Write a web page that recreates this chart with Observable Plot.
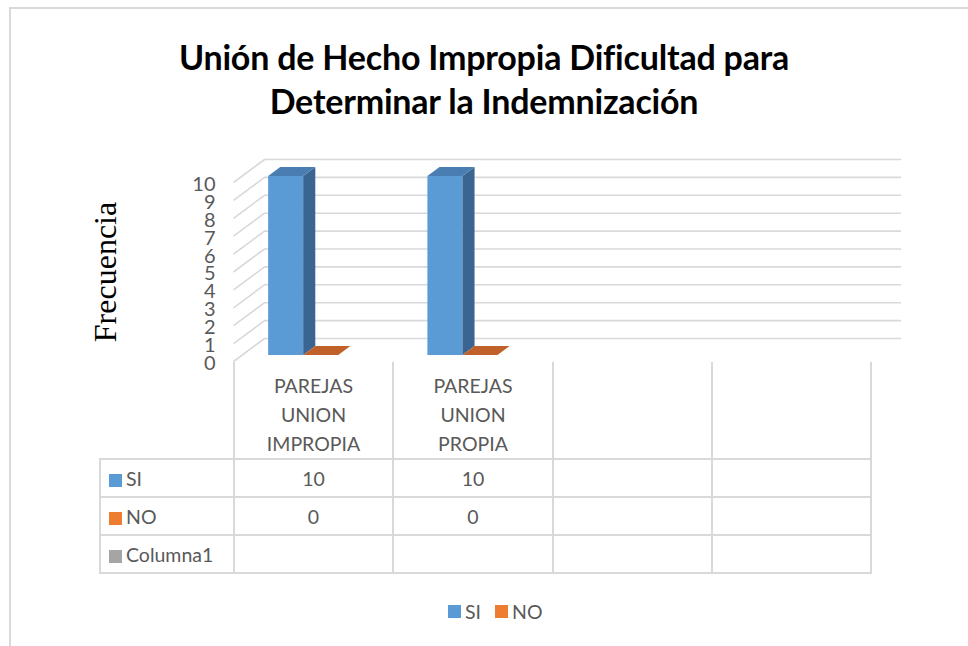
<!DOCTYPE html>
<html>
<head>
<meta charset="utf-8">
<script src="https://cdn.jsdelivr.net/npm/d3@7"></script>
<script src="https://cdn.jsdelivr.net/npm/@observablehq/plot@0.6"></script>
<style>
  html, body { margin: 0; padding: 0; background: #fff; overflow: hidden; }
  #page { position: relative; width: 968px; height: 646px; font-family: Lato, "Open Sans", sans-serif; }
  #frame { position: absolute; left: 9px; top: 7px; width: 980px; height: 700px; border: 2px solid #d9d9d9; box-sizing: border-box; }
  #title { position: absolute; left: 0; top: 35px; width: 968px; text-align: center; font: bold 34px/44px Lato, sans-serif; color: #000; letter-spacing: -0.2px; }
  #chart { position: absolute; left: 0; top: 140px; }
  #table { position: absolute; left: 99px; top: 362px; border-collapse: collapse; font: 19.5px Lato, sans-serif; color: #595959; }
  #table td { border: 2px solid #d9d9d9; padding: 0; text-align: center; box-sizing: border-box; }
  #table tr.head td { border-top: none; vertical-align: top; padding-top: 9px; line-height: 29px; height: 96px; }
  #table tr.row td { height: 38px; }
  #table td.name { text-align: left; padding-left: 8px; white-space: nowrap; }
  .key { display: inline-block; width: 13px; height: 13px; margin-right: 4px; vertical-align: -1px; }
  #legend { position: absolute; left: 448px; top: 600px; font: 19.5px Lato, sans-serif; color: #595959; display: flex; align-items: center; }
  #legend span.item { display: inline-flex; align-items: center; margin-right: 14px; }
</style>
</head>
<body>
<div id="page">
  <div id="frame"></div>
  <div id="title">Unión de Hecho Impropia Dificultad para<br>Determinar la Indemnización</div>
  <div id="chart"></div>
  <table id="table"></table>
  <div id="legend"></div>
</div>
<script>
// ---- data ----
const categories = ["PAREJAS UNION IMPROPIA", "PAREJAS UNION PROPIA", "", ""];
const seriesNames = ["SI", "NO", "Columna1"];
const siValues = [10, 10, null, null];
const noValues = [0, 0, null, null];
const columna1Values = [null, null, null, null];
const yTicks = [0, 1, 2, 3, 4, 5, 6, 7, 8, 9, 10];
const legendSeries = ["SI", "NO"];

// ---- styles ----
const colors = {
  SI: {front: "#5b9bd5", side: "#3a6590", top: "#4a7eb2", key: "#5b9bd5"},
  NO: {front: "#ed7d31", side: "#b35e24", top: "#c0612a", key: "#ed7d31"},
  Columna1: {front: "#a5a5a5", side: "#7c7c7c", top: "#8c8c8c", key: "#a5a5a5"}
};
const grid = "#d9d9d9";
// oblique depth (data units) and bar layout
const DX = 0.195, DY = 1.285;
const BAR_START = 0.17, BAR_W = 0.22;
const ZF = 0.26, ZB = 0.65;

const valuesBySeries = {SI: siValues, NO: noValues, Columna1: columna1Values};
const bars = [];
categories.forEach((c, i) => {
  seriesNames.forEach((s, j) => {
    const v = valuesBySeries[s][i];
    if (v == null) return;
    bars.push({id: `${i}-${s}`, series: s, value: v,
      x1: i + BAR_START + j * BAR_W, x2: i + BAR_START + (j + 1) * BAR_W});
  });
});

const marks = [
  // back wall gridlines
  Plot.ruleY(yTicks, {y: d => d + DY, x1: () => DX, x2: () => categories.length + DX, stroke: grid, strokeWidth: 1.6}),
  // side wall gridlines
  Plot.link(yTicks, {x1: () => 0, y1: d => d, x2: () => DX, y2: d => d + DY, stroke: grid, strokeWidth: 1.6})
];

for (const b of bars) {
  const c = colors[b.series];
  marks.push(
    Plot.rect([b], {x1: d => d.x1 + ZF * DX, x2: d => d.x2 + ZF * DX, y1: () => ZF * DY, y2: d => d.value + ZF * DY, fill: c.front}),
    Plot.areaY([ZF, ZB].map(z => ({x: b.x2 + z * DX, y1: z * DY, y2: b.value + z * DY})),
      {x: "x", y1: "y1", y2: "y2", fill: c.side, curve: "linear"}),
    Plot.areaX([ZF, ZB].map(z => ({y: b.value + z * DY, x1: b.x1 + z * DX, x2: b.x2 + z * DX})),
      {y: "y", x1: "x1", x2: "x2", fill: c.top, curve: "linear"})
  );
}

marks.push(
  Plot.text(yTicks, {x: () => 0, y: d => d, text: d => String(d), textAnchor: "end", dx: -18, dy: 2,
    fontSize: 20, fill: "#595959"}),
  Plot.text(["Frecuencia"], {frameAnchor: "left", textAnchor: "middle", dx: -128, rotate: -90, fontSize: 32,
    fontFamily: "Liberation Serif, Times New Roman, serif", fill: "#000"})
);

const chart = Plot.plot({
  width: 968,
  height: 230,
  marginLeft: 233,
  marginRight: 98,
  marginTop: 42,
  marginBottom: 9,
  x: {type: "linear", domain: [0, categories.length], range: [233, 870], axis: null},
  y: {type: "linear", domain: [0, 10], range: [221, 42], axis: null},
  style: {background: "transparent", overflow: "visible", fontFamily: "Lato, sans-serif"},
  marks
});
document.getElementById("chart").appendChild(chart);

// ---- data table ----
const table = document.getElementById("table");
const colW = [134, 159, 160, 159, 159];
const head = document.createElement("tr");
head.className = "head";
const corner = document.createElement("td");
corner.style.width = colW[0] + "px";
corner.style.border = "none";
corner.style.borderRight = "2px solid " + grid;
corner.style.borderBottom = "2px solid " + grid;
head.appendChild(corner);
categories.forEach((c, i) => {
  const td = document.createElement("td");
  td.style.width = colW[i + 1] + "px";
  td.innerHTML = c.split(" ").filter(Boolean).join("<br>");
  head.appendChild(td);
});
table.appendChild(head);
seriesNames.forEach(s => {
  const tr = document.createElement("tr");
  tr.className = "row";
  const name = document.createElement("td");
  name.className = "name";
  name.innerHTML = `<span class="key" style="background:${colors[s].key}"></span>${s}`;
  tr.appendChild(name);
  categories.forEach((c, i) => {
    const td = document.createElement("td");
    const v = valuesBySeries[s][i];
    td.textContent = v == null ? "" : String(v);
    tr.appendChild(td);
  });
  table.appendChild(tr);
});

// ---- legend ----
const legend = document.getElementById("legend");
legendSeries.forEach(s => {
  const item = document.createElement("span");
  item.className = "item";
  item.innerHTML = `<span class="key" style="background:${colors[s].key}"></span>${s}`;
  legend.appendChild(item);
});
</script>
</body>
</html>
